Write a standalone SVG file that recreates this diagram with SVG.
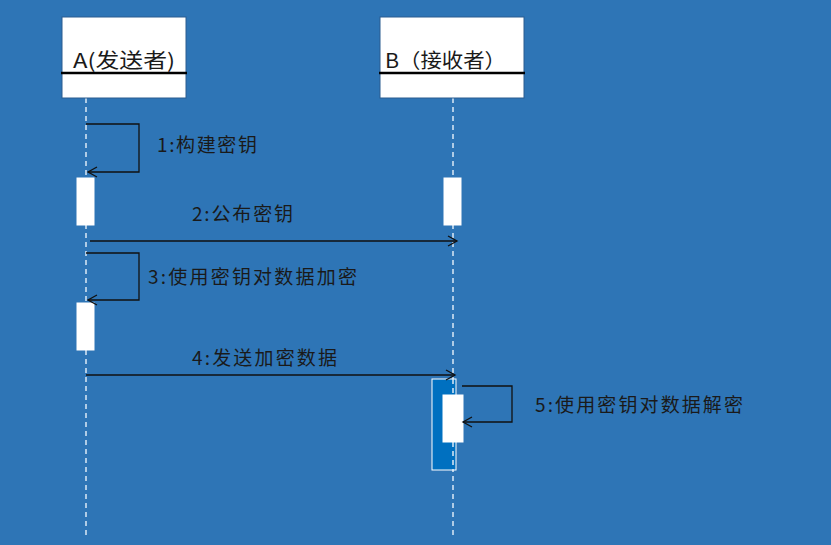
<svg xmlns="http://www.w3.org/2000/svg" width="831" height="545" viewBox="0 0 831 545">
<defs>
<marker id="open" markerWidth="12" markerHeight="12" refX="10" refY="6" orient="auto" markerUnits="userSpaceOnUse">
<path d="M1,1 L10,6 L1,11" fill="none" stroke="#111" stroke-width="1.3"/>
</marker>
</defs>
<style>
.head{fill:#fff;stroke:#2a5c8f;stroke-width:1}
.bar{stroke:#000;stroke-width:2.5}
.life{stroke:#dce9f6;stroke-width:1.5;stroke-dasharray:5 4;fill:none}
.act{fill:#fff;stroke:#fff}
.msg{stroke:#111;stroke-width:1.3;fill:none;marker-end:url(#open)}
.t{font-family:"Noto Sans CJK SC","Liberation Sans",sans-serif;fill:#1a1a1a}
.lbl{font-size:19px}
.ttl{font-size:20px}
</style>
<rect width="831" height="545" fill="#2E75B6"/>
<g id="lifelines">
<line class="life" x1="86" y1="98" x2="86" y2="535"/>
<line class="life" x1="453" y1="98" x2="453" y2="535"/>
</g>
<g id="nodeA">
<rect class="head" x="62" y="17" width="124" height="81"/>
<line class="bar" x1="61" y1="73" x2="187" y2="73"/>
<text class="t ttl" x="73" y="68" textLength="102" lengthAdjust="spacingAndGlyphs">A(发送者)</text>
</g>
<g id="nodeB">
<rect class="head" x="380" y="17" width="144" height="81"/>
<line class="bar" x1="379" y1="73" x2="525" y2="73"/>
<text class="t ttl" x="385" y="68" textLength="121" lengthAdjust="spacingAndGlyphs">B（接收者）</text>
</g>
<g id="activations">
<rect class="act" x="77" y="178" width="17" height="47"/>
<rect class="act" x="444" y="178" width="17" height="47"/>
<rect class="act" x="77" y="303" width="17" height="47"/>
<rect x="432" y="379" width="24" height="91" fill="#0070C0" stroke="#fff" stroke-width="1"/>
<line class="life" x1="453" y1="379" x2="453" y2="470"/>
<rect class="act" x="443" y="395" width="20" height="47"/>
</g>
<g id="connectors">
<path class="msg" d="M86,124 H139 V172 H88"/>
<line class="msg" x1="90" y1="241" x2="457" y2="241"/>
<path class="msg" d="M86,253 H139 V300 H88"/>
<line class="msg" x1="86" y1="375" x2="455" y2="375"/>
<path class="msg" d="M462,386 H512 V422 H463"/>
</g>
<g id="labels">
<text class="t lbl" x="157" y="152" textLength="100" lengthAdjust="spacing">1:构建密钥</text>
<text class="t lbl" x="192" y="221" textLength="101" lengthAdjust="spacing">2:公布密钥</text>
<text class="t lbl" x="148" y="284" textLength="209" lengthAdjust="spacing">3:使用密钥对数据加密</text>
<text class="t lbl" x="192" y="365" textLength="145" lengthAdjust="spacing">4:发送加密数据</text>
<text class="t lbl" x="535" y="412" textLength="208" lengthAdjust="spacing">5:使用密钥对数据解密</text>
</g>
</svg>
